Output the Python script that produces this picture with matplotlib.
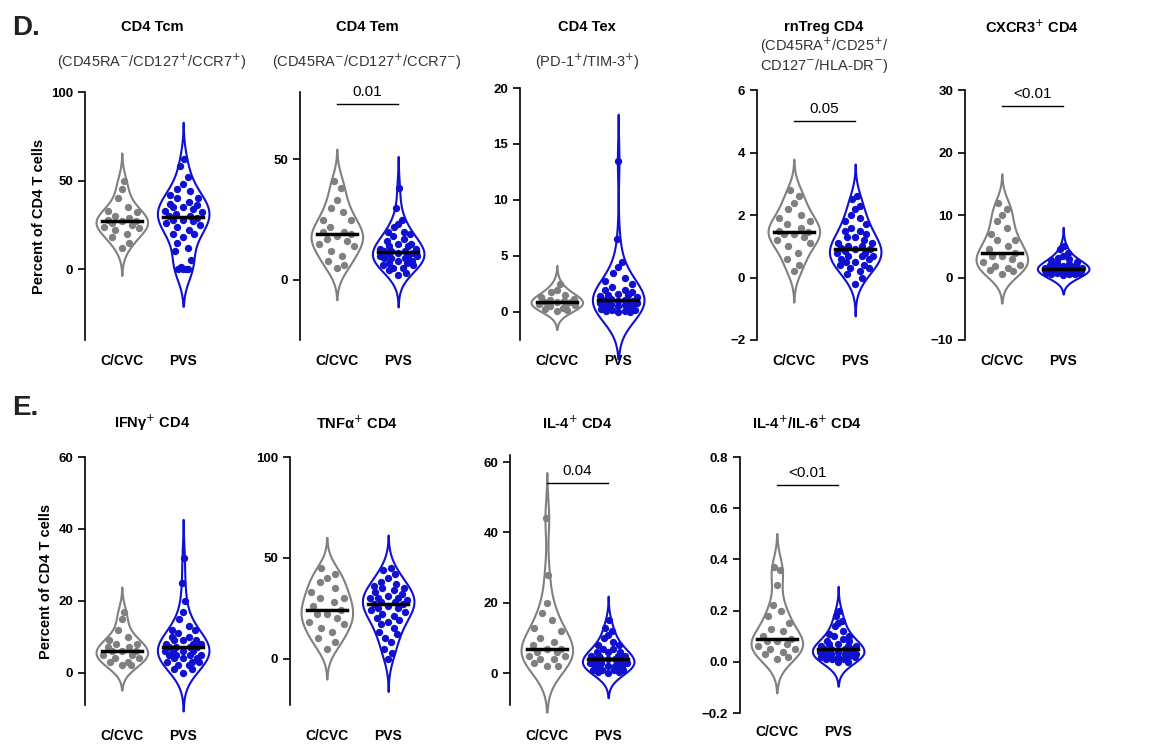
import matplotlib.pyplot as plt
import numpy as np

plt.rcParams['font.family'] = ['Liberation Sans', 'DejaVu Sans']

groups = ["C/CVC", "PVS"]
colors = ["#808080", "#1010d0"]

tcm_c = [50, 45, 40, 35, 33, 32, 30, 29, 28, 27, 27, 26, 25, 24, 23, 22, 20, 18, 15, 12]
tcm_p = [62, 58, 52, 48, 45, 42, 40, 38, 37, 36, 35, 34, 33, 32, 31, 30, 30, 29, 28, 27,
         26, 25, 24, 22, 20, 18, 15, 12, 10, 5, 1, 0, 0, 0, 0, 35, 40, 44, 20, 28]
tem_c = [41, 38, 33, 30, 28, 25, 22, 20, 19, 18, 17, 16, 15, 14, 12, 10, 8, 6, 5, 25, 20]
tem_p = [38, 30, 25, 23, 22, 20, 19, 18, 17, 16, 15, 14, 13, 13, 12, 12, 11, 11, 11, 10,
         10, 10, 9, 9, 8, 8, 7, 7, 6, 5, 4, 3, 2, 20, 15, 14, 12, 9, 6, 5]
tex_c = [2.5, 2, 1.8, 1.5, 1.3, 1.2, 1.1, 1, 0.9, 0.9, 0.8, 0.7, 0.6, 0.5, 0.4, 0.3, 0.2, 0.1, 0.8, 1.0]
tex_p = [13.5, 6.5, 4.5, 4, 3.5, 3, 2.8, 2.5, 2.2, 2, 1.8, 1.6, 1.5, 1.4, 1.3, 1.2, 1.1, 1.1, 1.0, 1.0,
         0.9, 0.9, 0.8, 0.8, 0.7, 0.6, 0.6, 0.5, 0.5, 0.4, 0.3, 0.3, 0.2, 0.2, 0.1, 0.1, 0, 0, 1.5, 2]
treg_c = [2.8, 2.6, 2.4, 2.2, 2, 1.9, 1.8, 1.7, 1.6, 1.5, 1.45, 1.4, 1.4, 1.3, 1.2, 1.1, 1, 0.8, 0.6, 0.4, 0.2]
treg_p = [2.6, 2.5, 2.3, 2.2, 2, 1.9, 1.8, 1.7, 1.6, 1.5, 1.4, 1.3, 1.3, 1.2, 1.1, 1.0, 1.0, 0.95, 0.9, 0.9,
          0.85, 0.8, 0.8, 0.7, 0.7, 0.6, 0.6, 0.5, 0.5, 0.4, 0.3, 0.3, 0.2, 0.1, 0, -0.2, 1.1, 0.7, 1.5, 0.4]
cx_c = [12, 11, 10, 9, 8, 7, 6, 5, 4.5, 4, 3.5, 3.5, 3, 2.5, 2, 1.8, 1.5, 1.2, 1, 0.5, 6]
cx_p = [5, 4.5, 4, 3.5, 3, 2.8, 2.5, 2.2, 2, 2, 1.8, 1.7, 1.6, 1.5, 1.5, 1.4, 1.4, 1.3, 1.3, 1.2,
        1.2, 1.1, 1.1, 1, 1, 0.9, 0.9, 0.8, 0.8, 0.7, 0.7, 0.6, 0.5, 0.5, 0.4, 2.4, 1.9, 1.6, 3.2, 1.0]
ifn_c = [17, 15, 12, 10, 9, 8, 7, 7, 6, 6, 6, 5, 5, 4, 4, 3, 3, 2, 2, 8]
ifn_p = [32, 25, 20, 17, 15, 13, 12, 11, 10, 10, 9, 9, 8, 8, 7, 7, 7, 7, 6, 6,
         6, 6, 5, 5, 5, 4, 4, 4, 3, 3, 2, 2, 1, 1, 0, 12, 8, 9, 5, 3]
tnf_c = [45, 42, 40, 38, 35, 33, 30, 28, 26, 24, 22, 22, 20, 18, 17, 15, 13, 10, 8, 5, 30]
tnf_p = [45, 44, 42, 40, 38, 37, 36, 35, 34, 33, 32, 31, 30, 30, 29, 28, 28, 27, 27, 26,
         25, 24, 23, 22, 21, 20, 19, 18, 17, 15, 13, 12, 10, 8, 5, 3, 0, 35, 30, 25]
il4_c = [44, 28, 20, 17, 15, 13, 12, 10, 9, 8, 7, 7, 6, 5, 5, 4, 4, 3, 2, 2, 6]
il4_p = [15, 13, 12, 11, 10, 9, 8, 8, 7, 7, 6, 6, 6, 5, 5, 5, 4, 4, 4, 4,
         4, 3, 3, 3, 3, 2, 2, 2, 2, 1, 1, 1, 1, 0.5, 0.5, 0, 5, 3, 2, 1.5]
il46_c = [.37, .36, .3, .22, .2, .18, .15, .12, .1, .09, .08, .08, .07, .06, .05, .05, .04, .03, .02, .01, .13]
il46_p = [.2, .18, .16, .15, .14, .12, .11, .1, .1, .09, .08, .08, .07, .07, .06, .06, .05, .05, .05, .04,
          .04, .04, .04, .03, .03, .03, .03, .02, .02, .02, .02, .01, .01, .01, 0, 0, .06, .05, .03, .02]

# title, subtitle, data, ylim, yticks, p-value, p-bar y, left px, top px, bottom px, title y px
panels = [
    ("CD4 Tcm", "(CD45RA$^{-}$/CD127$^{+}$/CCR7$^{+}$)", (tcm_c, tcm_p), (-40, 100), [0, 50, 100], None, None, 85, 92, 340, 27),
    ("CD4 Tem", "(CD45RA$^{-}$/CD127$^{+}$/CCR7$^{-}$)", (tem_c, tem_p), (-25, 78), [0, 50], "0.01", 73, 300, 92, 340, 27),
    ("CD4 Tex", "(PD-1$^{+}$/TIM-3$^{+}$)", (tex_c, tex_p), (-2.5, 20), [0, 5, 10, 15, 20], None, None, 520, 88, 340, 27),
    ("rnTreg CD4", "(CD45RA$^{+}$/CD25$^{+}$/\nCD127$^{-}$/HLA-DR$^{-}$)", (treg_c, treg_p), (-2, 6), [-2, 0, 2, 4, 6], "0.05", 5.0, 757, 90, 340, 27),
    ("CXCR3$^{+}$ CD4", None, (cx_c, cx_p), (-10, 30), [-10, 0, 10, 20, 30], "<0.01", 27.5, 965, 90, 340, 27),
    ("IFNγ$^{+}$ CD4", None, (ifn_c, ifn_p), (-9, 60), [0, 20, 40, 60], None, None, 85, 457, 705, 423),
    ("TNFα$^{+}$ CD4", None, (tnf_c, tnf_p), (-23, 100), [0, 50, 100], None, None, 290, 457, 705, 423),
    ("IL-4$^{+}$ CD4", None, (il4_c, il4_p), (-9, 62), [0, 20, 40, 60], "0.04", 54, 510, 455, 705, 423),
    ("IL-4$^{+}$/IL-6$^{+}$ CD4", None, (il46_c, il46_p), (-0.2, 0.8), [-0.2, 0.0, 0.2, 0.4, 0.6, 0.8], "<0.01", 0.69, 740, 457, 713, 423),
]

W, H = 1162, 744
fig = plt.figure(figsize=(W / 100, H / 100), dpi=100)


def kde(vals, grid, bw):
    v = np.asarray(vals, float)
    return np.exp(-0.5 * ((grid[:, None] - v[None, :]) / bw) ** 2).sum(axis=1)


for i, (title, sub, data, ylim, yt, pval, pby, left, top, bottom, tpy) in enumerate(panels):
    ax = fig.add_axes([left / W, 1 - bottom / H, 135 / W, (bottom - top) / H])
    for j, vals in enumerate(data):
        vals = np.asarray(vals, float)
        span = vals.max() - vals.min()
        bw = 0.09 * (span if span > 0 else 1) + 0.02 * (ylim[1] - ylim[0])
        grid = np.linspace(vals.min() - 2.5 * bw, vals.max() + 2.5 * bw, 300)
        d = kde(vals, grid, bw)
        dmax = d.max()
        d = d / dmax * 0.42
        ax.fill_betweenx(grid, j - d, j + d, facecolor="white", edgecolor=colors[j], lw=1.5, clip_on=False, zorder=2)
        dens_pts = kde(vals, vals, bw) / dmax * 0.42
        order = np.argsort(vals)
        offs = np.zeros(len(vals))
        pattern = [0, 0.7, -0.7, 0.35, -0.35, 0.9, -0.9, 0.5, -0.5]
        for k, idx in enumerate(order):
            offs[idx] = pattern[k % len(pattern)] * dens_pts[idx] * 0.8
        ax.scatter(j + offs, vals, s=28, color=colors[j], zorder=3, clip_on=False, lw=0)
        med = np.median(vals)
        ax.plot([j - 0.33, j + 0.33], [med, med], color="black", lw=2.5, zorder=4)
    ax.set_xlim(-0.6, 1.6)
    ax.set_ylim(*ylim)
    ax.set_yticks(yt)
    ax.set_xticks([0, 1])
    ax.set_xticklabels(groups, fontweight="bold", fontsize=10)
    for lab in ax.get_yticklabels():
        lab.set_fontweight("bold")
    ax.tick_params(axis="y", labelsize=9.5, width=1.2, length=5)
    ax.tick_params(axis="x", length=0, pad=10 + (712 - bottom if i >= 5 else 0))
    for s in ["top", "right", "bottom"]:
        ax.spines[s].set_visible(False)
    ax.spines["left"].set_linewidth(1.2)
    ax.patch.set_alpha(0)
    if i in (0, 5):
        ax.set_ylabel("Percent of CD4 T cells", fontweight="bold", fontsize=10.5)
    cx = (left + 67) / W
    fig.text(cx, 1 - tpy / H, title, ha="center", va="center", fontweight="bold", fontsize=10.5)
    if sub is not None:
        sy = 62 if "\n" not in sub else 55
        fig.text(cx, 1 - sy / H, sub, ha="center", va="center", fontsize=10.5, color="#333333",
                 linespacing=1.1)
    if pval is not None:
        ax.plot([0, 1], [pby, pby], color="black", lw=1, clip_on=False)
        ax.text(0.5, pby + (ylim[1] - ylim[0]) * 0.02, pval, ha="center", va="bottom", fontsize=11)

fig.text(12 / W, 1 - 28 / H, "D.", fontsize=20, fontweight="bold", va="center", color="#222222")
fig.text(12 / W, 1 - 408 / H, "E.", fontsize=20, fontweight="bold", va="center", color="#222222")

fig.savefig("out.png", dpi=100)
